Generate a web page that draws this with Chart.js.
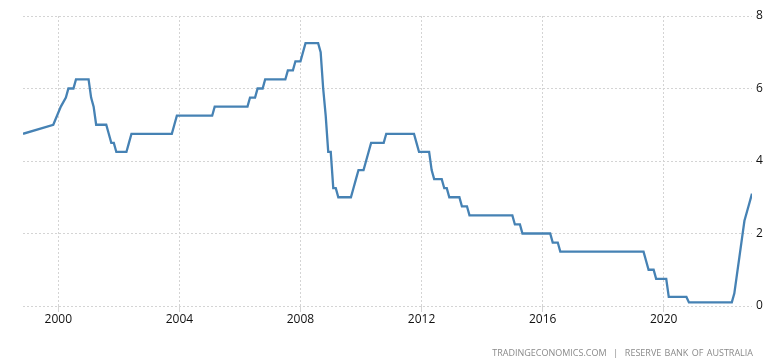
<!DOCTYPE html>
<html>
<head>
<meta charset="utf-8">
<script src="https://cdn.jsdelivr.net/npm/chart.js@4/dist/chart.umd.min.js"></script>
<style>
  html, body { margin: 0; padding: 0; background: #fff; }
  #wrap { position: relative; width: 784px; height: 363px; }
  #source {
    position: absolute; right: 31px; top: 346px;
    font: 9px "Open Sans", sans-serif; color: #8a8a8a;
    letter-spacing: 0; word-spacing: 1px; white-space: nowrap;
  }
</style>
</head>
<body>
<div id="wrap">
  <canvas id="chart" width="784" height="363"></canvas>
  <div id="source">TRADINGECONOMICS.COM &nbsp;|&nbsp; RESERVE BANK OF AUSTRALIA</div>
</div>
<script>

// cash rate, month of observation and value (%)
const months = [
  '1998-11','1999-11','2000-02','2000-04','2000-05','2000-07','2000-08',
  '2001-01','2001-02','2001-03','2001-04','2001-08','2001-09','2001-10','2001-11','2001-12',
  '2002-04','2002-05','2002-06','2003-10','2003-11','2003-12','2005-02','2005-03',
  '2006-04','2006-05','2006-07','2006-08','2006-10','2006-11','2007-07','2007-08','2007-10','2007-11',
  '2008-01','2008-02','2008-03','2008-08','2008-09','2008-10','2008-11','2008-12',
  '2009-01','2009-02','2009-03','2009-04','2009-09','2009-10','2009-11','2009-12',
  '2010-02','2010-03','2010-04','2010-05','2010-10','2010-11','2011-10','2011-11','2011-12',
  '2012-04','2012-05','2012-06','2012-09','2012-10','2012-11','2012-12',
  '2013-04','2013-05','2013-07','2013-08','2015-01','2015-02','2015-04','2015-05',
  '2016-04','2016-05','2016-07','2016-08','2019-05','2019-06','2019-07','2019-09','2019-10',
  '2020-02','2020-03','2020-10','2020-11','2022-04','2022-05','2022-06','2022-07','2022-08',
  '2022-09','2022-10','2022-11','2022-12'
]
const rates = [
  4.75,5.00,5.50,5.75,6.00,6.00,6.25,
  6.25,5.75,5.50,5.00,5.00,4.75,4.50,4.50,4.25,
  4.25,4.50,4.75,4.75,5.00,5.25,5.25,5.50,
  5.50,5.75,5.75,6.00,6.00,6.25,6.25,6.50,6.50,6.75,
  6.75,7.00,7.25,7.25,7.00,6.00,5.25,4.25,
  4.25,3.25,3.25,3.00,3.00,3.25,3.50,3.75,
  3.75,4.00,4.25,4.50,4.50,4.75,4.75,4.50,4.25,
  4.25,3.75,3.50,3.50,3.25,3.25,3.00,
  3.00,2.75,2.75,2.50,2.50,2.25,2.25,2.00,
  2.00,1.75,1.75,1.50,1.50,1.25,1.00,1.00,0.75,
  0.75,0.25,0.25,0.10,0.10,0.35,0.85,1.35,1.85,
  2.35,2.60,2.85,3.10
]
const xTicks = [2000, 2004, 2008, 2012, 2016, 2020]
const yTicks = [0, 2, 4, 6, 8]

function toYear(m){ //'YYYY-MM' -> decimal year
      const p = m.split('-')
      return Number(p[0]) + (Number(p[1]) - 1) / 12
}

const points = months.map((m, i) => ({ x: toYear(m), y: rates[i] }))

const gridColor = '#d4d4d4'
const tickFont  = { family: '"Open Sans", sans-serif', size: 12 }

const setup = {
      type: 'line',
      data: {
            datasets: [{
                  data: points,
                  borderColor: 'rgb(70,130,180)',
                  borderWidth: 2.3,
                  pointRadius: 0,
                  tension: 0,
                  fill: false
            }]
      },
      options: {
            responsive: false,
            animation: false,
            layout: { padding: { left: 23, top: 16, right: 0, bottom: 0 } },
            plugins: { legend: { display: false }, tooltip: { enabled: false } },
            scales: {
                  x: {
                        type: 'linear',
                        min: points[0].x,
                        max: points[points.length - 1].x,
                        afterBuildTicks: (s) => { s.ticks = xTicks.map(v => ({ value: v })) },
                        afterFit: (s) => { s.height = 57 },
                        grid: { color: gridColor, tickLength: 6, drawTicks: true },
                        border: { display: false, dash: [2, 2] },
                        ticks: { color: '#111', font: tickFont, padding: 0, maxRotation: 0,
                                 callback: (v) => String(v) }
                  },
                  y: {
                        position: 'right',
                        min: 0,
                        max: 8,
                        afterBuildTicks: (s) => { s.ticks = yTicks.map(v => ({ value: v })) },
                        afterFit: (s) => { s.width = 32 },
                        grid: { color: gridColor, drawTicks: false },
                        border: { display: false, dash: [2, 2] },
                        ticks: { color: '#111', font: tickFont, padding: 4 }
                  }
            }
      }
}

new Chart(document.getElementById('chart'), setup)

</script>
</body>
</html>
